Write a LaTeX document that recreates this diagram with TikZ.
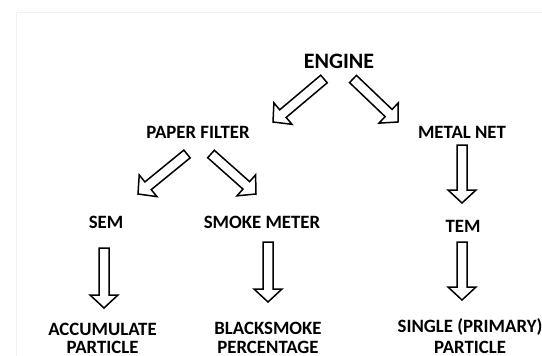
\documentclass[tikz,border=0pt]{standalone}
\usepackage{fontspec}
\setmainfont{Carlito}
\usetikzlibrary{calc}
\begin{document}
\begin{tikzpicture}[x=1pt,y=-1pt,
  lbl/.style={font=\bfseries\fontsize{18.8}{20}\selectfont, anchor=base, inner sep=0pt},
  big/.style={font=\bfseries\fontsize{22}{24}\selectfont, anchor=base, inner sep=0pt},
  blockarrow/.style={draw=black, line width=1.5pt, line join=miter, fill=white, to path={
    ($(\tikztostart)!5pt!90:(\tikztotarget)$)
    -- ($(\tikztotarget)!13pt!(\tikztostart)!5pt!-90:(\tikztostart)$)
    -- ($(\tikztotarget)!13pt!(\tikztostart)!14pt!-90:(\tikztostart)$)
    -- (\tikztotarget)
    -- ($(\tikztotarget)!13pt!(\tikztostart)!14pt!90:(\tikztostart)$)
    -- ($(\tikztotarget)!13pt!(\tikztostart)!5pt!90:(\tikztostart)$)
    -- ($(\tikztostart)!5pt!-90:(\tikztotarget)$) -- cycle}}
]
\useasboundingbox (0,0) rectangle (542,356);
\fill[white] (0,0) rectangle (542,356);
\draw[black!6, line width=0.6pt] (16,360) -- (16,12) -- (542,12);

% labels
\node[big] (engine) at (339,68) {ENGINE};
\node[lbl] (pf) at (198,138) {PAPER FILTER};
\node[lbl] (mn) at (462,138) {METAL NET};
\node[lbl] (sem) at (106,228.5) {SEM};
\node[lbl] (sm) at (262,228) {SMOKE METER};
\node[lbl] (tem) at (463,232) {TEM};
\node[lbl] (acc) at (102.5,335) {ACCUMULATE};
\node[lbl] (accb) at (102.5,353.5) {PARTICLE};
\node[lbl] (bs) at (268,334) {BLACKSMOKE};
\node[lbl] (bsb) at (268,353.5) {PERCENTAGE};
\node[lbl] (sp) at (470,332) {SINGLE (PRIMARY)};
\node[lbl] (spb) at (470,353.5) {PARTICLE};

% arrow ends
\coordinate (a1s) at (324,79);  \coordinate (a1e) at (273,122);
\coordinate (a2s) at (353,79);  \coordinate (a2e) at (398,122);
\coordinate (a3s) at (187,154); \coordinate (a3e) at (138,194);
\coordinate (a4s) at (211,154); \coordinate (a4e) at (256,194);
\coordinate (a5s) at (462,145); \coordinate (a5e) at (462,203);
\coordinate (a6s) at (104,248); \coordinate (a6e) at (104,308);
\coordinate (a7s) at (268,242); \coordinate (a7e) at (268,302);
\coordinate (a8s) at (462,242); \coordinate (a8e) at (462,300);

\draw[blockarrow] (a1s) to (a1e);
\draw[blockarrow] (a2s) to (a2e);
\draw[blockarrow] (a3s) to (a3e);
\draw[blockarrow] (a4s) to (a4e);
\draw[blockarrow] (a5s) to (a5e);
\draw[blockarrow] (a6s) to (a6e);
\draw[blockarrow] (a7s) to (a7e);
\draw[blockarrow] (a8s) to (a8e);
\end{tikzpicture}
\end{document}
